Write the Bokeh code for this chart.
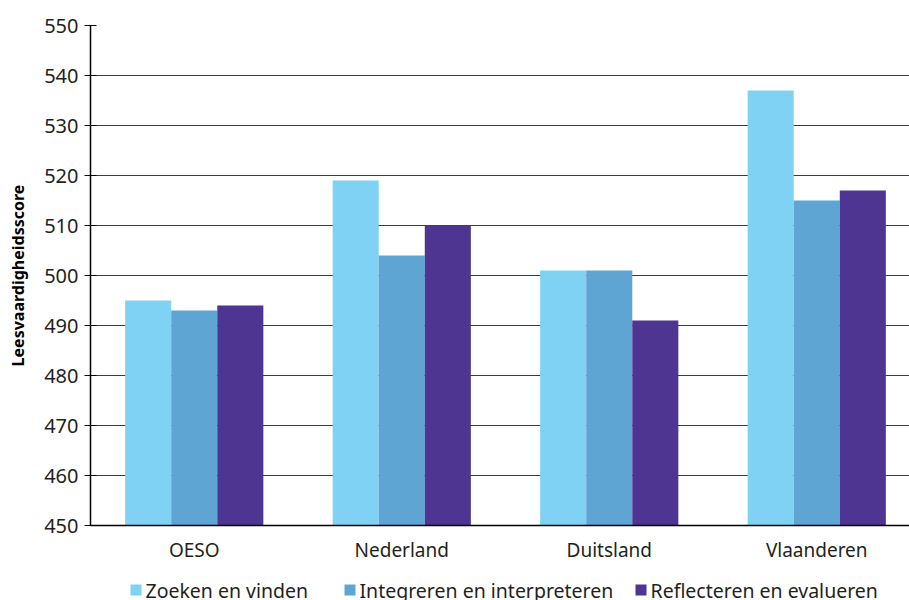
from bokeh.plotting import figure
from bokeh.layouts import column
from bokeh.models import FixedTicker, Range1d
from bokeh.core.properties import value
from bokeh.embed import file_html
from bokeh.resources import INLINE

# Reading-skill scores per region and subscale
regions = ["OESO", "Nederland", "Duitsland", "Vlaanderen"]
series_names = ["Zoeken en vinden", "Integreren en interpreteren", "Reflecteren en evalueren"]
zoeken = [495, 519, 501, 537]
integreren = [493, 504, 501, 515]
reflecteren = [494, 510, 491, 517]
y_ticks = [450, 460, 470, 480, 490, 500, 510, 520, 530, 540, 550]

colors = ["#80d2f5", "#5ea5d4", "#4d3591"]
FONT = "Noto Sans"
TEXT = "#231f20"

p = figure(width=909, height=565, output_backend="svg", toolbar_location=None,
           x_range=Range1d(-0.5, 3.447), y_range=Range1d(450, 550),
           min_border_left=90, min_border_right=0, min_border_top=25,
           min_border_bottom=40)
p.outline_line_color = None
p.background_fill_color = "white"
p.border_fill_color = "white"

bar_w = 0.222
xs = list(range(len(regions)))
for k, (vals, col) in enumerate(zip([zoeken, integreren, reflecteren], colors)):
    offs = (k - 1) * bar_w
    p.vbar(x=[x + offs for x in xs], top=vals, bottom=450, width=bar_w,
           fill_color=col, line_color=None)

# y axis
p.yaxis.ticker = FixedTicker(ticks=y_ticks)
p.yaxis.axis_line_color = "black"
p.yaxis.axis_line_width = 1.5
p.yaxis.major_tick_line_color = "black"
p.yaxis.major_tick_in = 6
p.yaxis.major_tick_out = 6
p.yaxis.minor_tick_line_color = None
p.yaxis.major_label_text_font = FONT
p.yaxis.major_label_text_font_size = "20px"
p.yaxis.major_label_text_color = TEXT
p.yaxis.major_label_standoff = 6
p.yaxis.axis_label = "Leesvaardigheidsscore"
p.yaxis.axis_label_text_font = FONT
p.yaxis.axis_label_text_font_style = "bold"
p.yaxis.axis_label_text_font_size = "16px"
p.yaxis.axis_label_text_color = "black"
p.yaxis.axis_label_standoff = 12

# x axis
p.xaxis.ticker = FixedTicker(ticks=xs)
p.xaxis.major_label_overrides = {i: name for i, name in enumerate(regions)}
p.xaxis.axis_line_color = "black"
p.xaxis.axis_line_width = 1.5
p.xaxis.major_tick_line_color = None
p.xaxis.major_tick_in = 0
p.xaxis.major_tick_out = 0
p.xaxis.minor_tick_line_color = None
p.xaxis.major_label_text_font = FONT
p.xaxis.major_label_text_font_size = "19px"
p.xaxis.major_label_text_color = TEXT
p.xaxis.major_label_standoff = 11

p.xgrid.grid_line_color = None
p.ygrid.ticker = FixedTicker(ticks=y_ticks)
p.ygrid.grid_line_color = "#3c3c3c"
p.ygrid.grid_line_width = 1

# legend strip below the chart: pixel-scaled ranges so entries sit at fixed x
lg = figure(width=909, height=35, output_backend="svg", toolbar_location=None,
            x_range=Range1d(90, 909), y_range=Range1d(0, 35),
            x_axis_location=None, y_axis_location=None,
            min_border_left=90, min_border_right=0, min_border_top=0,
            min_border_bottom=0)
lg.outline_line_color = None
lg.xgrid.grid_line_color = None
lg.ygrid.grid_line_color = None
lg.border_fill_color = "white"
lg.background_fill_color = "white"

entry_x = [135.5, 349.5, 640.5]
entry_y = [10.5] * len(series_names)
lg.rect(x=entry_x, y=entry_y, width=11, height=11, width_units="screen",
        height_units="screen", fill_color=colors, line_color=None)
lg.text(x=[x + 9.5 for x in entry_x], y=entry_y, text=series_names,
        text_baseline="middle", text_align="left", text_font=value(FONT),
        text_font_size="19.5px", text_color=TEXT)

layout = column(p, lg, spacing=0)
open("out.html", "w").write(file_html(layout, INLINE))
